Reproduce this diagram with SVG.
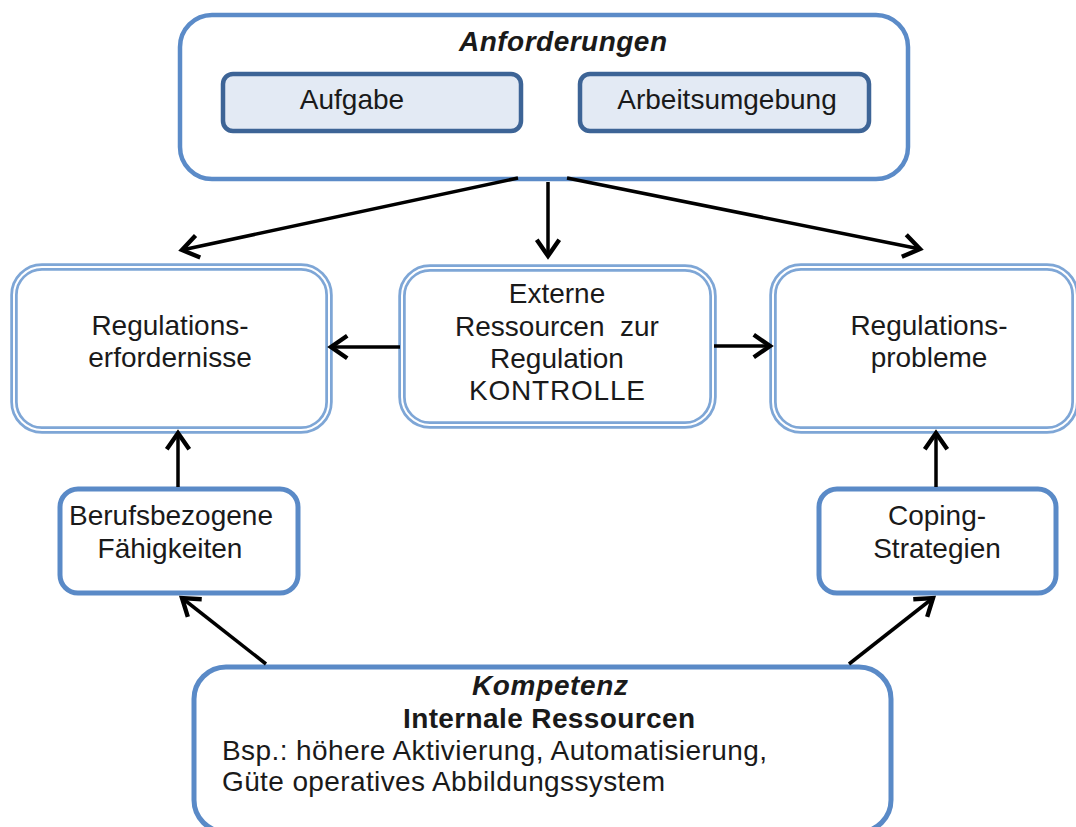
<svg xmlns="http://www.w3.org/2000/svg" width="1076" height="827" viewBox="0 0 1076 827">
<defs>
<marker id="ah" markerUnits="userSpaceOnUse" markerWidth="30" markerHeight="30" viewBox="-16 -12 20 24" refX="0" refY="0" orient="auto">
<path d="M -13,-9 L 0,0 L -13,9" fill="none" stroke="#000" stroke-width="3.5" stroke-linejoin="miter"/>
</marker>
<style>
text{font-family:"Liberation Sans",Arial,sans-serif;font-size:28px;fill:#1a1a1a}
.c{text-anchor:middle}
.main{fill:#fff;stroke:#5B8BC8;stroke-width:4.5}
.sub{fill:#E3EAF4;stroke:#3D6496;stroke-width:4.5}
.dblo{fill:#fff;stroke:#7EA6D6;stroke-width:7.5}
.dbli{fill:none;stroke:#fff;stroke-width:2}
.small{fill:#fff;stroke:#5A8AC7;stroke-width:5}
.conn{stroke:#000;stroke-width:3.5;fill:none;marker-end:url(#ah)}
</style>
</defs>
<rect width="1076" height="827" fill="#fff"/>
<g id="anforderungen">
<rect class="main" x="180" y="15" width="728" height="164" rx="32"/>
<text class="c" x="563" y="51" font-weight="bold" font-style="italic" textLength="208">Anforderungen</text>
</g>
<g id="aufgabe">
<rect class="sub" x="223" y="74" width="298" height="57" rx="10"/>
<text class="c" x="352" y="109">Aufgabe</text>
</g>
<g id="arbeitsumgebung">
<rect class="sub" x="580" y="74" width="289" height="57" rx="10"/>
<text class="c" x="727" y="109">Arbeitsumgebung</text>
</g>
<g id="regulationserfordernisse">
<rect class="dblo" x="14" y="267" width="315" height="163" rx="28"/>
<rect class="dbli" x="14" y="267" width="315" height="163" rx="28"/>
<text class="c" x="170" y="335">Regulations-</text>
<text class="c" x="170" y="367">erfordernisse</text>
</g>
<g id="externe">
<rect class="dblo" x="402" y="268" width="311" height="157" rx="28"/>
<rect class="dbli" x="402" y="268" width="311" height="157" rx="28"/>
<text class="c" x="557" y="303">Externe</text>
<text class="c" x="557" y="336" xml:space="preserve">Ressourcen  zur</text>
<text class="c" x="557" y="368">Regulation</text>
<text class="c" x="557" y="400" textLength="176">KONTROLLE</text>
</g>
<g id="regulationsprobleme">
<rect class="dblo" x="773" y="267" width="302" height="163" rx="28"/>
<rect class="dbli" x="773" y="267" width="302" height="163" rx="28"/>
<text class="c" x="929" y="335">Regulations-</text>
<text class="c" x="929" y="367">probleme</text>
</g>
<g id="berufsbezogene">
<rect class="small" x="60" y="489" width="238" height="104" rx="18"/>
<text class="c" x="171" y="525">Berufsbezogene</text>
<text class="c" x="170" y="558">Fähigkeiten</text>
</g>
<g id="coping">
<rect class="small" x="819" y="489" width="237" height="104" rx="18"/>
<text class="c" x="937" y="525">Coping-</text>
<text class="c" x="937" y="558">Strategien</text>
</g>
<g id="kompetenz">
<rect class="small" x="194" y="667" width="697" height="165" rx="32"/>
<text class="c" x="550" y="695" font-style="italic" font-weight="bold" textLength="156">Kompetenz</text>
<text class="c" x="549" y="728" font-weight="bold" textLength="292">Internale Ressourcen</text>
<text x="222" y="760" font-size="28.5" textLength="545">Bsp.: höhere Aktivierung, Automatisierung,</text>
<text x="222" y="791" font-size="28.5" textLength="443">Güte operatives Abbildungssystem</text>
</g>
<g id="connectors">
<line class="conn" x1="518" y1="178" x2="182" y2="250"/>
<line class="conn" x1="548" y1="182" x2="548" y2="256"/>
<line class="conn" x1="567" y1="178" x2="920" y2="249"/>
<line class="conn" x1="400" y1="347" x2="331" y2="347"/>
<line class="conn" x1="714" y1="346" x2="770" y2="346"/>
<line class="conn" x1="178" y1="487" x2="178" y2="433"/>
<line class="conn" x1="936" y1="487" x2="936" y2="433"/>
<line class="conn" x1="266" y1="664" x2="182" y2="598"/>
<line class="conn" x1="849" y1="664" x2="933" y2="598"/>
</g>
</svg>
